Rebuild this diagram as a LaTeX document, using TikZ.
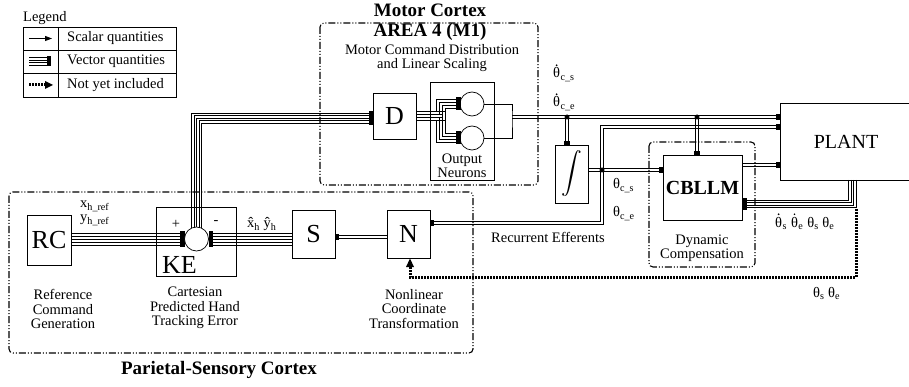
\documentclass[tikz,border=0pt]{standalone}
\usepackage{amsmath}
\usepackage{fontspec}
\setmainfont{Liberation Serif}
\usetikzlibrary{arrows.meta,calc}
\newcommand{\dblh}[2]{\draw[dw] ($(#1)+(0,-1.2)$) -- ($(#2)+(0,-1.2)$);\draw[dw] ($(#1)+(0,1.2)$) -- ($(#2)+(0,1.2)$);}
\newcommand{\dblv}[2]{\draw[dw] ($(#1)+(-1.2,0)$) -- ($(#2)+(-1.2,0)$);\draw[dw] ($(#1)+(1.2,0)$) -- ($(#2)+(1.2,0)$);}
\newcommand{\thdot}[2]{\node[lbl,anchor=base west] (#1) at (#2) {θ};\fill ($(#1.north)+(0,-2.4)$) circle (0.95pt);}
\begin{document}
\begin{tikzpicture}[x=1pt,y=-1pt,
  box/.style={draw,line width=0.7pt,inner sep=0pt,outer sep=0pt},
  grp/.style={draw,line width=1.1pt,dash pattern=on 7pt off 2pt on 1pt off 2pt on 1pt off 2pt,rounded corners=4pt},
  wire/.style={line width=0.55pt},
  dw/.style={line width=0.7pt},
  lbl/.style={font=\fontsize{14.5}{14.5}\selectfont,inner sep=0pt},
  big/.style={font=\fontsize{26}{26}\selectfont},
  ttl/.style={font=\fontsize{19}{19}\selectfont\bfseries,inner sep=0pt},
  nyi/.style={line width=3pt,dash pattern=on 1.8pt off 1.2pt},
  dot/.style={circle,fill,inner sep=0pt,minimum size=5pt},
  neuron/.style={circle,draw,fill=white,line width=0.7pt,minimum size=24pt,inner sep=0pt},
]
\useasboundingbox (0,0) rectangle (909,387);

% ---------- legend ----------
\node[lbl,anchor=base west] (leg) at (23,22) {\underline{Legend}};
\draw[line width=0.7pt] (23,27) rectangle (176,97);
\draw[line width=0.7pt] (23,50) -- (176,50) (23,73) -- (176,73) (58,27) -- (58,97);
\coordinate (l1a) at (29,38.5); \coordinate (l1b) at (52,38.5);
\draw[line width=0.9pt,-{Triangle[length=7pt,width=5pt]}] (l1a) -- (l1b);
\foreach \i in {0,...,3} \draw[wire] (29,{57.5+2.5*\i}) -- (48,{57.5+2.5*\i});
\fill (47,56) rectangle (51,66.5);
\draw[nyi] (29,85) -- (45,85);
\fill (45,81) -- (53,85) -- (45,89) -- cycle;
\node[lbl,anchor=west] at (67,38.5) {Scalar quantities};
\node[lbl,anchor=west] at (67,61.5) {Vector quantities};
\node[lbl,anchor=west] at (67,85) {Not yet included};

% ---------- group frames ----------
\draw[grp] (320,23) rectangle (538,185);
\draw[grp] (9,192) rectangle (473,353);
\draw[grp] (649,142) rectangle (755,267);

\node[ttl] at (430,10) {Motor Cortex};
\node[ttl] at (430,32) {AREA 4 (M1)};
\node[lbl,align=center] at (432,58) {Motor Command Distribution\\and Linear Scaling};
\node[ttl] at (219,370) {Parietal-Sensory Cortex};

% ---------- blocks ----------
\node[box,big,minimum width=44pt,minimum height=50pt] (RC) at (49,240) {RC};
\node[box,minimum width=80pt,minimum height=69pt] (KE) at (196,241.5) {};
\node[big,anchor=base west,inner sep=0pt] at (162,273) {KE};
\node[box,big,minimum width=43pt,minimum height=48pt] (S) at (313.5,234) {S};
\node[box,big,minimum width=43pt,minimum height=48pt] (N) at (408.5,234) {N};
\node[box,big,minimum width=43pt,minimum height=46pt] (D) at (394.5,116) {D};
\node[box,minimum width=64pt,minimum height=98pt] (ON) at (462,131) {};
\node[box,minimum width=33pt,minimum height=58pt,font=\fontsize{22}{22}\selectfont] (INT) at (571.5,174) {$\displaystyle\int$};
\node[box,minimum width=79pt,minimum height=65pt,font=\fontsize{20}{20}\selectfont\bfseries] (CB) at (702.5,187.5) {CBLLM};
\node[box,minimum width=134pt,minimum height=77pt] (PL) at (847,141.5) {};
\node[font=\fontsize{20}{20}\selectfont] at (846,142) {PLANT};

\node[lbl,align=center] at (462,166) {Output\\Neurons};
\node[lbl,align=center] at (702,248) {Dynamic\\Compensation};
\node[lbl,align=center] at (63,309) {Reference\\Command\\Generation};
\node[lbl,align=center] at (195,308) {Cartesian\\Predicted Hand\\Tracking Error};
\node[lbl,align=center] at (414,309) {Nonlinear\\Coordinate\\Transformation};
\node[lbl] at (548,237) {Recurrent Efferents};

% ---------- RC -> KE ----------
\coordinate (kel) at (181,239);
\foreach \i in {0,...,4} \draw[wire] (RC.east |- 0,{233+3*\i}) -- (kel |- 0,{233+3*\i});
\fill (180,231) rectangle (185,247);
% ---------- S -> KE ----------
\coordinate (ker) at (212,239);
\foreach \i in {0,...,4} \draw[wire] (S.west |- 0,{233+3*\i}) -- (ker |- 0,{233+3*\i});
\fill (208.5,231) rectangle (213,247);
% ---------- KE -> D ----------
\foreach \i in {0,...,4}
  \draw[wire] ({191.5+2.5*\i},236) -- ({191.5+2.5*\i},{113+2.5*\i}) -- (D.west |- 0,{113+2.5*\i});
\fill (369,111) rectangle (373,125);
\node[neuron] (KEc) at (196.5,239) {};
\node[lbl] at (176,224) {+};
\node[lbl] at (216,223) {-};
\node[lbl,anchor=base west] at (80,208) {x\textsubscript{h\_ref}};
\node[lbl,anchor=base west] at (80,222) {y\textsubscript{h\_ref}};
\node[lbl,anchor=base west] at (247,228) {\^{x}\textsubscript{h} \^{y}\textsubscript{h}};

% ---------- D -> output neurons ----------
\node[neuron] (C1) at (472,104) {};
\node[neuron] (C2) at (472,138) {};
\foreach \k in {0,...,3} {
  \draw[wire] (D.east |- 0,{111.5+3*\k}) -- ({436+3*\k},{111.5+3*\k}) -- ({436+3*\k},{99.5+3*\k}) -- (457,{99.5+3*\k});
  \draw[wire] (D.east |- 0,{111.5+3*\k}) -- ({445-3*\k},{111.5+3*\k}) -- ({445-3*\k},{133.5+3*\k}) -- (457,{133.5+3*\k});
}
\fill (456,97.5) rectangle (460.5,110.5);
\fill (456,131.5) rectangle (460.5,144.5);
\coordinate (jn) at (512,117);
\draw[wire] (C1.east) -| (jn) |- (C2.east);

% ---------- to plant ----------
\coordinate (pA) at (PL.west |- jn);
\dblh{jn}{pA}
\fill (776,114) rectangle (780,120);
\coordinate (t1) at (567,117);
\coordinate (t1b) at (t1 |- INT.north);
\coordinate (t2) at (697,117);
\coordinate (t2b) at (t2 |- CB.north);
\dblv{t1}{t1b}
\fill (564,141) rectangle (570,145);
\dblv{t2}{t2b}
\fill (694,151) rectangle (700,155);
\node[dot] at (t1) {};
\node[dot] at (t2) {};

% recurrent efferents
\coordinate (r0) at (PL.west |- 0,127);
\coordinate (r1) at (602,127);
\coordinate (r2) at (602,223);
\coordinate (r3) at (N.east |- r2);
\draw[dw] ($(r0)+(0,-1.2)$) -- ($(r1)+(-1.2,-1.2)$) -- ($(r2)+(-1.2,-1.2)$) -- ($(r3)+(0,-1.2)$);
\draw[dw] ($(r0)+(0,1.2)$) -- ($(r1)+(1.2,1.2)$) -- ($(r2)+(1.2,1.2)$) -- ($(r3)+(0,1.2)$);
\fill (776,124) rectangle (780,130);
\fill (430,220) rectangle (434,226);
% integrator -> CBLLM
\coordinate (ji) at (602,170);
\coordinate (i0) at (INT.east |- ji);
\coordinate (i1) at (CB.west |- ji);
\dblh{i0}{i1}
\fill (659,167) rectangle (663,173);
\node[dot] at (ji) {};
% CBLLM -> plant
\coordinate (c0) at (CB.east |- 0,165);
\coordinate (c1) at (PL.west |- c0);
\dblh{c0}{c1}
\fill (776,162) rectangle (780,168);
% N -> S
\coordinate (n0) at (N.west |- 0,237);
\coordinate (n1) at (S.east |- n0);
\dblh{n0}{n1}
\fill (335,234) rectangle (339,240);
% plant -> CBLLM (vector)
\foreach \i in {0,...,3}
  \draw[wire] ({848.5+2.5*\i},180) -- ({848.5+2.5*\i},{200+2.5*\i}) -- (CB.east |- 0,{200+2.5*\i});
\fill (742,198) rectangle (746.5,210);
% not yet included feedback
\coordinate (nf) at (410,277);
\draw[nyi] (856,209) |- (nf) -- (410,267);
\fill (406,267) -- (414,267) -- (410,258.5) -- cycle;

% ---------- signal labels ----------
\thdot{a1}{553,78}
\node[lbl,anchor=base west] at (a1.base east) {\textsubscript{c\_s}};
\thdot{a2}{553,107}
\node[lbl,anchor=base west] at (a2.base east) {\textsubscript{c\_e}};
\node[lbl,anchor=base west] at (613,189) {θ\textsubscript{c\_s}};
\node[lbl,anchor=base west] at (613,217) {θ\textsubscript{c\_e}};
\thdot{q1}{775,227}
\node[lbl,anchor=base west] (q1s) at (q1.base east) {\textsubscript{s}};
\thdot{q2}{$(q1s.base east)+(3.6,0)$}
\node[lbl,anchor=base west] (q2s) at (q2.base east) {\textsubscript{e}};
\node[lbl,anchor=base west] at ($(q2s.base east)+(3.6,0)$) {θ\textsubscript{s} θ\textsubscript{e}};
\node[lbl,anchor=base west] at (813,297) {θ\textsubscript{s} θ\textsubscript{e}};
\end{tikzpicture}
\end{document}
